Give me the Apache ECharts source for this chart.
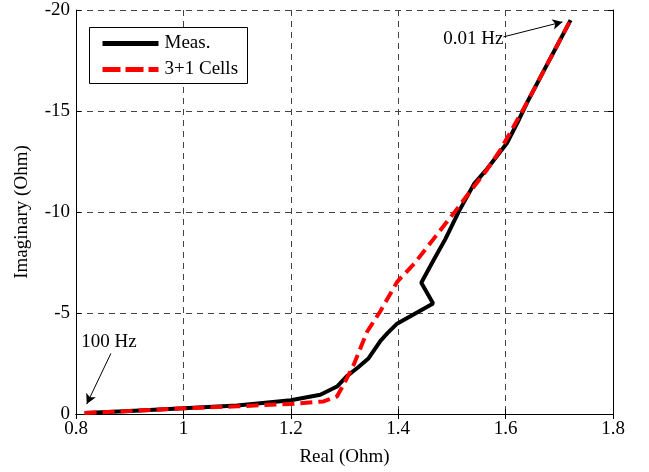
<!DOCTYPE html>
<html><head><meta charset="utf-8">
<script src="https://cdn.jsdelivr.net/npm/echarts@6/dist/echarts.min.js"></script>
<style>html,body{margin:0;padding:0;background:#fff}#c{width:649px;height:472px}</style>
</head><body><div id="c"></div>
<script>
const measData = [[0.816,-0.05],[0.9,-0.15],[1.0,-0.28],[1.1,-0.42],[1.2,-0.68],[1.255,-0.95],[1.286,-1.36],[1.304,-1.86],[1.325,-2.3],[1.345,-2.76],[1.367,-3.62],[1.38,-4.0],[1.397,-4.45],[1.465,-5.47],[1.443,-6.5],[1.466,-7.62],[1.488,-8.67],[1.513,-10.03],[1.541,-11.38],[1.566,-12.15],[1.603,-13.43],[1.625,-14.58],[1.643,-15.57],[1.682,-17.54],[1.721,-19.5]];
const modelData = [[0.816,-0.05],[0.9,-0.15],[1.0,-0.28],[1.1,-0.38],[1.2,-0.5],[1.261,-0.62],[1.286,-0.87],[1.298,-1.44],[1.317,-2.43],[1.342,-4.07],[1.367,-5.1],[1.398,-6.54],[1.43,-7.45],[1.466,-8.67],[1.506,-10.03],[1.535,-11.05],[1.566,-12.12],[1.591,-13.1],[1.643,-15.57],[1.682,-17.54],[1.721,-19.5]];
const seriesNames = ['Meas.', '3+1 Cells'];
const xTicks = [0.8, 1, 1.2, 1.4, 1.6, 1.8];
const yTicks = [0, -5, -10, -15, -20];
const ann1 = {text:'0.01 Hz', from:[1.596,-18.67], to:[1.706,-19.41]};
const ann2 = {text:'100 Hz', from:[0.865,-3.0], to:[0.82,-0.49]};

const font = 'Liberation Serif, Times New Roman, serif';
const FS = 19;
const chart = echarts.init(document.getElementById('c'));
const gridLine = {show:true, lineStyle:{color:'#444', type:[6,5], width:1}};
chart.setOption({
  animation:false,
  grid:{left:76, right:36, top:10, bottom:56},
  xAxis:[{
    type:'value', min:0.8, max:1.8, interval:0.2, position:'bottom',
    name:'Real (Ohm)', nameLocation:'middle', nameGap:34,
    nameTextStyle:{fontFamily:font, fontSize:FS, color:'#000'},
    axisLine:{lineStyle:{color:'#000', width:1}},
    axisTick:{inside:true, length:5, lineStyle:{color:'#000'}},
    axisLabel:{fontFamily:font, fontSize:FS, color:'#000', margin:6,
      formatter:v=>{const t=xTicks.find(a=>Math.abs(a-v)<1e-6);return t===undefined?'':String(t);}},
    splitLine:gridLine
  },{
    type:'value', min:0.8, max:1.8, interval:0.2, position:'top',
    axisLine:{lineStyle:{color:'#000', width:1}},
    axisTick:{inside:true, length:5, lineStyle:{color:'#000'}},
    axisLabel:{show:false}, splitLine:{show:false}
  }],
  yAxis:[{
    type:'value', min:-20, max:0, interval:5, inverse:true, position:'left',
    name:'Imaginary (Ohm)', nameLocation:'middle', nameGap:44, nameRotate:90,
    nameTextStyle:{fontFamily:font, fontSize:FS, color:'#000'},
    axisLine:{lineStyle:{color:'#000', width:1}},
    axisTick:{inside:true, length:5, lineStyle:{color:'#000'}},
    axisLabel:{fontFamily:font, fontSize:FS, color:'#000', margin:6,
      formatter:v=>{const t=yTicks.find(a=>Math.abs(a-v)<1e-6);return t===undefined?'':(t===0?'0':String(t));}},
    splitLine:gridLine
  },{
    type:'value', min:-20, max:0, interval:5, inverse:true, position:'right',
    axisLine:{lineStyle:{color:'#000', width:1}},
    axisTick:{inside:true, length:5, lineStyle:{color:'#000'}},
    axisLabel:{show:false}, splitLine:{show:false}
  }],
  series:[{
    name:seriesNames[0], type:'line', data:measData, showSymbol:false, symbol:'none',
    lineStyle:{color:'#000', width:4}, itemStyle:{color:'#000'}, z:2,
    markLine:{silent:true, symbol:['none','arrow'], symbolSize:[8,10],
      lineStyle:{color:'#000', width:1, type:'solid'}, label:{show:false},
      data:[[{coord:ann1.from},{coord:ann1.to}],[{coord:ann2.from},{coord:ann2.to}]]}
  },{
    name:seriesNames[1], type:'line', data:modelData, showSymbol:false, symbol:'none',
    lineStyle:{color:'#ff0000', width:4, type:[12,6]}, itemStyle:{color:'#ff0000'}, z:3
  }]
});
const p1 = chart.convertToPixel({gridIndex:0}, ann1.from);
const p2 = chart.convertToPixel({gridIndex:0}, ann2.from);
chart.setOption({graphic:[
  {type:'text', x:p1[0], y:p1[1]+2, style:{text:ann1.text, fontFamily:font, fontSize:FS, fill:'#000', align:'right', verticalAlign:'middle'}},
  {type:'text', x:p2[0]-2, y:p2[1]-11, style:{text:ann2.text, fontFamily:font, fontSize:FS, fill:'#000', align:'center', verticalAlign:'middle'}},
  {type:'group', left:89, top:27, z:100, children:[
    {type:'rect', shape:{x:0, y:0, width:158, height:56}, style:{fill:'#fff', stroke:'#000', lineWidth:1}},
    {type:'line', shape:{x1:13, y1:16, x2:69, y2:16}, style:{stroke:'#000', lineWidth:5}},
    {type:'line', shape:{x1:13, y1:42, x2:69, y2:42}, style:{stroke:'#ff0000', lineWidth:5, lineDash:[18,5]}},
    {type:'text', x:75, y:16, style:{text:seriesNames[0], fontFamily:font, fontSize:FS, fill:'#000', verticalAlign:'middle'}},
    {type:'text', x:75, y:42, style:{text:seriesNames[1], fontFamily:font, fontSize:FS, fill:'#000', verticalAlign:'middle'}}
  ]}
]});
</script></body></html>
